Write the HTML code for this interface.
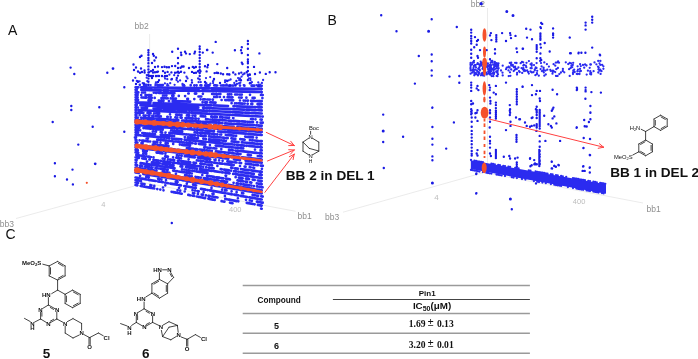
<!DOCTYPE html>
<html><head><meta charset="utf-8">
<style>
html,body{margin:0;padding:0;background:#fff;}
body{width:698px;height:359px;overflow:hidden;position:relative;font-family:"Liberation Sans",sans-serif;}
svg{position:absolute;left:0;top:0;will-change:transform;}
.ax{font-family:"Liberation Sans",sans-serif;fill:#8e8e8e;font-size:8.5px;}
.tk{font-family:"Liberation Sans",sans-serif;fill:#bdbdbd;font-size:7.5px;}
.pl{font-family:"Liberation Sans",sans-serif;fill:#111;font-size:14px;}
.big{font-family:"Liberation Sans",sans-serif;fill:#111;font-size:13.6px;font-weight:bold;}
.ch{font-family:"Liberation Sans",sans-serif;fill:#222;font-size:5.5px;}
.cb{font-family:"Liberation Sans",sans-serif;fill:#222;font-size:6px;font-weight:bold;}
.tb{font-family:"Liberation Sans",sans-serif;fill:#111;font-weight:bold;}
.sf{font-family:"Liberation Serif",serif;fill:#111;font-weight:bold;}
</style></head><body>
<svg width="698" height="359" viewBox="0 0 698 359">
<!-- axes lines -->
<g stroke="#e6e6e6" stroke-width="0.8" fill="none">
<line x1="16" y1="218.5" x2="134.5" y2="186"/>
<line x1="134.5" y1="181" x2="295.6" y2="211.3"/>
<line x1="149.6" y1="34" x2="149.6" y2="186"/>
<line x1="343" y1="212.2" x2="483.6" y2="172.6"/>
<line x1="484" y1="172.5" x2="643" y2="203"/>
<line x1="487.5" y1="8" x2="487.5" y2="172"/>
</g>
<!-- axis labels -->
<text class="ax" x="134.6" y="28.9">bb2</text>
<text class="ax" x="-0.3" y="227">bb3</text>
<text class="ax" x="297.6" y="219.4">bb1</text>
<text class="ax" x="470.7" y="6.9">bb2</text>
<text class="ax" x="325" y="220.3">bb3</text>
<text class="ax" x="646.5" y="212.2">bb1</text>
<text class="tk" x="101.2" y="207">4</text>
<text class="tk" x="229" y="212">400</text>
<text class="tk" x="434.2" y="199.5" style="font-size:8px">4</text>
<text class="tk" x="572.8" y="204.3">400</text>
<!-- panel labels -->
<text class="pl" x="8" y="34.5">A</text>
<text class="pl" x="327.6" y="25.1">B</text>
<text class="pl" x="5.6" y="239">C</text>
<path d="M139.8 84.8h0M144 84.9h0M145.6 84.9L146.1 84.9M157.3 85h0M159.3 85h0M160.3 85h0M161.9 85L162.8 85M182.9 85.2h0M183.9 85.2h0M190.7 85.2h0M194.3 85.3h0M196.6 85.3h0M200.4 85.3h0M201.4 85.3h0M205.2 85.4h0M207.1 85.4h0M208.5 85.4h0M209.5 85.4h0M214.3 85.4L215.7 85.4M217.2 85.5h0M220.9 85.5L226.1 85.5M227.7 85.5h0M229.7 85.6h0M230.9 85.6h0M232.4 85.6h0M233.6 85.6h0M240 85.6h0M244.4 85.7h0M251.6 85.7L254.3 85.7M257.8 85.8h0M259.4 85.8L261.7 85.8M135.6 87.3L138.4 87.3M141.2 87.4L152 87.5M154.1 87.5L199.4 88.1M201.6 88.1L209.1 88.2M211.3 88.3L261.7 88.9M135.6 89.8L136.9 89.8M261.3 91.9L261.7 92M141.4 89.9L161.2 90.3M163.3 90.3L168.4 90.4M170.6 90.4L200 90.9M202.2 90.9L216.8 91.2M218.9 91.2L261.7 92M135.6 92.3L138.3 92.4M261.3 95L261.7 95M142 92.5L145 92.5M153.8 92.7L153.8 92.7M155.9 92.8L156.6 92.8M158.8 92.8L172.5 93.1M174.4 93.2h0M188.3 93.5L188.7 93.5M194.9 93.6L196.2 93.6M202.9 93.8L202.9 93.8M212.1 94L213.9 94M216 94L216.9 94.1M218.9 94.1h0M220.4 94.1h0M227.9 94.3h0M229.4 94.3L229.7 94.3M231.3 94.4h0M235.1 94.5L237.7 94.5M239.9 94.6L240.1 94.6M241.8 94.6h0M250 94.8h0M261 95h0M262 95h0M262.7 95h0M135.6 94.8L137.6 94.9M141.2 95h0M145.5 95.1L146.7 95.1M148.3 95.2h0M149.3 95.2h0M151.3 95.2h0M163 95.5h0M164.2 95.6h0M166.4 95.6h0M172.2 95.8L173.5 95.8M178.8 95.9h0M185.1 96.1h0M198.5 96.5L201.3 96.5M214.2 96.9L217.2 96.9M219.9 97h0M224 97.1h0M227.6 97.2L228.8 97.2M230.3 97.3h0M231.9 97.3L232.5 97.3M239.1 97.5h0M241 97.6L241.7 97.6M246.4 97.7h0M252.6 97.9L254.6 97.9M262.4 98.1h0M135.6 97.3L137.6 97.4M260 101.1L261.7 101.2M141.5 97.5L146.2 97.7M148.7 97.7h0M150.3 97.8L151.8 97.8M154.7 97.9h0M161.5 98.1L162.6 98.2M164.1 98.2h0M165.7 98.2L166.1 98.3M167.7 98.3h0M170.7 98.4h0M172 98.4h0M173.3 98.5h0M174.6 98.5h0M175.9 98.6h0M187.3 98.9L188 98.9M194.3 99.1h0M200.6 99.3h0M203.2 99.4L204.9 99.4M207.1 99.5L208.3 99.5M209.9 99.6h0M212.6 99.7L212.9 99.7M221.6 100h0M225.3 100.1h0M226.6 100.1h0M228.4 100.2h0M229.8 100.2h0M231.4 100.2L233.2 100.3M240 100.5h0M243.6 100.6h0M245.3 100.7h0M247.4 100.7L247.9 100.7M251 100.8L251.8 100.9M253.3 100.9h0M254.6 101h0M256.5 101L259.1 101.1M135.6 99.8L138 99.9M148.5 100.3L151.3 100.4M158.7 100.6L159.3 100.7M160.9 100.7h0M161.9 100.8h0M163.5 100.8L163.5 100.8M168.9 101L169.1 101M172.7 101.1L190.2 101.7M202.6 102.2h0M205.1 102.3h0M206.1 102.3h0M207.1 102.3h0M210.3 102.4L215.5 102.6M231.6 103.2h0M235 103.3h0M236.6 103.4h0M238.7 103.4L242.8 103.6M244.7 103.6h0M247.6 103.7L247.7 103.8M251.3 103.9h0M252.3 103.9h0M257.6 104.1L261.7 104.2M259.1 107.2L261.7 107.3M135.6 102.3L150.4 102.9M153.6 103.1L211.4 105.3M213.6 105.4L228 106M233.5 106.2L234.6 106.2M236.7 106.3L250.5 106.9M252.3 106.9h0M254.1 107L255.4 107.1M257.6 107.2L261.7 107.3M135.6 104.8L136.8 104.9M259.4 110.3L261.7 110.4M140.5 105.1L198.3 107.6M203.1 107.8L204.1 107.9M206.3 108L244.3 109.6M246.5 109.7L256 110.1M258.1 110.2L261.7 110.4M135.6 107.4L138 107.5M141.7 107.7L147.1 107.9M153.6 108.2h0M155.2 108.3L161.4 108.6M163.5 108.7L186.9 109.8M189.1 109.9L207.4 110.8M209.5 110.9L209.7 110.9M211.9 111L230.7 112M232.9 112.1L242.9 112.6M245.1 112.7L249.1 112.9M251.3 113L261.7 113.5M135.6 109.9L136.2 109.9M138.6 110L174.8 111.9M177 112L189.3 112.7M191.5 112.8L232.8 115M235 115.1L260.6 116.5M262.7 116.6h0M260.5 119.5L261.7 119.6M135.6 112.4L140.2 112.6M141.8 112.7h0M143.4 112.8h0M147.5 113L148.9 113.1M150.6 113.2h0M154 113.4h0M155.6 113.5L157.6 113.6M159.2 113.7h0M170 114.3h0M176.1 114.7h0M177.5 114.8h0M179.1 114.9h0M181 115L181.5 115M186.9 115.3L189.3 115.4M192.5 115.6L192.7 115.6M194.9 115.8L195.4 115.8M200.7 116.1L203.6 116.3M205.2 116.4h0M211.3 116.7L212.4 116.8M214.6 116.9L216.9 117M220.1 117.2L222.6 117.4M224.8 117.5L227.3 117.6M229.1 117.7h0M233.1 118L233.4 118M251 119L252.9 119.1M255.5 119.3h0M135.6 114.9L136.5 114.9M260.6 122.6L261.7 122.7M139.6 115.1h0M143.6 115.4h0M145.2 115.5L145.9 115.5M148.4 115.7h0M149.4 115.7h0M152.3 115.9h0M153.3 116h0M155.8 116.1L159.2 116.3M160.8 116.4h0M167.3 116.8L167.7 116.9M170.6 117h0M175.4 117.3L175.7 117.4M177.3 117.4h0M180.5 117.6h0M181.7 117.7h0M185.5 118h0M186.6 118h0M188.3 118.1L192.8 118.4M194.9 118.5L196.1 118.6M198.6 118.8h0M206 119.2L207.9 119.3M210.1 119.5h0M212.2 119.6L220.2 120.1M222.3 120.2L226.5 120.5M228.7 120.6L231.6 120.8M233.7 120.9L239.7 121.3M241.8 121.4L245.4 121.7M247.5 121.8L247.9 121.8M249.5 121.9h0M251.5 122h0M253 122.1h0M257.1 122.4h0M262.7 122.7h0M135.6 117.4L137.9 117.5M258.9 125.6L261.7 125.7M141.2 117.7L141.6 117.8M143.8 117.9L145.5 118M147.7 118.2L154.2 118.6M156.4 118.8L158.9 118.9M161 119.1L171.2 119.7M173.4 119.9L173.8 119.9M175.9 120.1L178.3 120.2M182.1 120.5L184.4 120.6M186.1 120.7h0M187.2 120.8h0M188.8 120.9L200.5 121.7M202.7 121.8L206.3 122.1M208.5 122.2L216.4 122.7M218.6 122.9L219.3 122.9M221.2 123.1h0M222.4 123.1h0M225.1 123.3L234.7 124M236.8 124.1L254 125.2M256.2 125.4L258.6 125.5M260.2 125.6h0M261.7 125.8h0M135.6 119.9L144 120.5M146.1 120.6L148.5 120.8M150.7 120.9L160.3 121.6M162.5 121.8L165.7 122M167.8 122.2L183.2 123.3M185.3 123.4L193.8 124M196 124.2L210.2 125.2M213.9 125.4L219.6 125.8M221.8 126L233.7 126.8M237.3 127.1L255.4 128.4M257.6 128.5L261.7 128.8M135.6 122.4L136.6 122.5M259.9 131.8L261.7 131.9M139 122.6L141.3 122.8M144.1 123h0M148.5 123.4L155.6 123.9M157.8 124.1L182.7 125.9M187.9 126.3h0M189.7 126.5L191.4 126.6M194.5 126.8L212.4 128.2M214.5 128.3L221.3 128.8M222.9 129h0M224.5 129.1L261.7 131.9M260.6 134.9L261.7 135M135.6 124.9L157.3 126.6M159.4 126.8L173.2 127.9M174.8 128h0M176.4 128.1L185.5 128.9M187.6 129L194.2 129.6M196.4 129.7L197.6 129.8M199.8 130L203 130.3M205.2 130.5L210.2 130.9M211.8 131h0M213.4 131.1L214 131.2M218 131.5L225.3 132.1M227.5 132.2L246.1 133.7M248.3 133.9L261.7 135M135.6 127.4L139.4 127.7M143.5 128.1h0M145.5 128.2L151 128.7M153.2 128.9L153.4 128.9M155.6 129.1L161.1 129.5M162.7 129.7h0M171.1 130.4h0M172.5 130.5h0M174.3 130.7h0M176.2 130.8L177.9 131M179.5 131.1h0M180.8 131.2h0M182.2 131.3h0M194.6 132.4L197.7 132.6M199.9 132.8L202.2 133M204.4 133.2L209.8 133.7M212 133.8L214.9 134.1M217.1 134.3L217.4 134.3M220.1 134.5h0M221.2 134.6h0M225.8 135h0M227 135.1h0M228.6 135.2L233.8 135.7M236 135.9L236.1 135.9M245.2 136.6h0M246.8 136.8L253 137.3M256.6 137.6h0M135.6 129.9L138.1 130.1M140.2 130.3h0M152.8 131.4h0M153.9 131.5h0M156 131.7h0M160.7 132.1L162.1 132.3M165.5 132.6h0M169.4 132.9L170.6 133M172.7 133.2L183.8 134.2M186 134.4L186.3 134.4M187.9 134.5h0M188.9 134.6h0M190.5 134.8L193.7 135.1M195.3 135.2h0M197.9 135.4L198.3 135.5M200.5 135.7L205.7 136.1M208.9 136.4L211.3 136.6M213.4 136.8L219.9 137.4M221.5 137.5h0M223 137.7L224.2 137.8M226.4 138L227.7 138.1M231.4 138.4L235.3 138.8M240.3 139.2h0M241.9 139.3L244.6 139.6M249.9 140.1L249.9 140.1M252 140.3L252.7 140.3M254.3 140.5h0M255.9 140.6L257.8 140.8M259.9 141L261.7 141.1M135.6 132.4L136.5 132.5M260.3 144.1L261.7 144.2M138.1 132.6h0M142.3 133L145.3 133.3M146.9 133.5h0M147.9 133.5h0M149.4 133.7L150.4 133.8M152 133.9h0M153 134h0M155 134.2h0M160.8 134.8h0M162.6 134.9L171.9 135.8M174.1 136L174.1 136M184.8 137h0M187.8 137.3L192.9 137.8M194.8 137.9h0M196.5 138.1h0M197.9 138.2h0M203.3 138.7L203.8 138.8M205.9 139h0M209 139.3L219.7 140.3M221.3 140.4h0M222.9 140.6L224.1 140.7M225.9 140.8h0M231.7 141.4L236.6 141.8M238.5 142h0M241.8 142.3h0M242.8 142.4h0M243.8 142.5h0M244.9 142.6h0M246.6 142.8L260.7 144.1M135.6 134.9L137.3 135.1M260.5 147.1L261.7 147.3M139 135.2h0M140.6 135.4L141.2 135.5M143.4 135.7L164.5 137.7M166.7 137.9L167.3 138M169.2 138.2h0M172 138.5L181.5 139.4M184.6 139.7L186.9 139.9M189 140.1L206.3 141.8M208.4 142L219.6 143.1M221.2 143.3h0M222.8 143.4L223.1 143.5M224.9 143.7h0M226.2 143.8h0M227.7 143.9L230.6 144.2M232.3 144.4h0M234.1 144.5L234.6 144.6M236.8 144.8L244.6 145.6M246.7 145.8h0M248.8 146L257.9 146.9M260.1 147.1L261.7 147.3M260.6 150.2L261.7 150.3M135 137.4h0M136 137.5h0M146.7 138.5L147.8 138.7M157.3 139.6L158.1 139.7M160 139.9h0M161.3 140h0M162.4 140.2h0M163.5 140.3h0M164.8 140.4h0M166.1 140.5h0M168.2 140.8h0M169.3 140.9h0M170.9 141L172.4 141.2M174.5 141.4L176 141.5M177.8 141.7h0M179 141.9h0M180 142h0M181.6 142.1L182.1 142.2M183.8 142.3h0M184.8 142.5h0M186.4 142.6L190.9 143.1M192.5 143.2h0M195.1 143.5L195.8 143.6M198.9 143.9L205.3 144.6M209.9 145h0M215.7 145.6L220.8 146.1M222.4 146.3h0M223.4 146.4h0M225 146.6L234.2 147.5M235.7 147.7h0M237.3 147.8L238.6 148M240.2 148.1h0M241.4 148.2h0M243.2 148.4h0M255 149.6h0M135.6 139.9L136.5 140M260 153.2L261.7 153.4M139.6 140.3h0M142.1 140.6h0M143.1 140.7h0M144.1 140.8h0M145.1 140.9h0M146.7 141.1L148.2 141.3M150.2 141.5h0M153.5 141.8L157.3 142.2M160.5 142.6h0M165.6 143.1L167.7 143.4M173.2 143.9h0M179.9 144.6h0M182.1 144.9h0M183.6 145.1L190 145.7M204.2 147.3L205.8 147.4M207.4 147.6h0M208.9 147.8L210.7 147.9M213.3 148.2h0M214.8 148.4h0M216.3 148.5h0M221.3 149.1h0M229 149.9h0M231 150.1h0M232 150.2h0M233 150.3h0M235.5 150.6h0M237 150.8h0M238 150.9h0M240 151.1h0M241.5 151.2L256.9 152.9M259.1 153.1L261.7 153.4M135.6 142.4L137.4 142.6M261.2 156.4L261.7 156.5M141.5 143.1L142.6 143.2M152.9 144.4h0M153.9 144.5h0M155.1 144.6h0M157.3 144.8h0M158.8 145L166.2 145.8M168.4 146.1L168.5 146.1M186.9 148.1L193.7 148.9M195.8 149.1L197.3 149.3M199.5 149.5L204.5 150.1M206.7 150.3L207.1 150.4M208.9 150.6h0M210.7 150.8L211.8 150.9M215.9 151.4L220.8 151.9M222.4 152.1h0M224 152.3L225.9 152.5M228 152.7L230 152.9M232.1 153.2L233.4 153.3M234.9 153.5h0M236.1 153.6h0M237.2 153.7h0M238.5 153.9h0M240.4 154.1L240.5 154.1M247.8 154.9L249.3 155.1M250.9 155.3h0M257.8 156h0M259.4 156.2L261.7 156.5M135.6 144.9L138.1 145.2M260.8 159.4L261.7 159.5M141.2 145.6L163.7 148.2M167.8 148.7L175.1 149.5M177.3 149.8L195.6 151.9M197.7 152.1L202.4 152.7M204.5 152.9L208.5 153.4M210.7 153.6L211.4 153.7M213.6 154L221 154.8M222.6 155h0M224.2 155.2L228.7 155.7M230.8 156L238.8 156.9M242 157.3L261.7 159.5M135.6 147.4L137 147.6M141 148.1L161.6 150.6M163.8 150.8L213.5 156.8M215.7 157.1L216.5 157.2M218.7 157.4L228.3 158.6M234 159.3L239.9 160M245.6 160.7L261.7 162.6M135.6 149.9L137.8 150.2M260.7 165.6L261.7 165.7M143.1 150.9L145.2 151.1M146.8 151.3h0M156.6 152.6h0M157.7 152.7h0M159.3 152.9L162.6 153.3M165.4 153.7h0M176.9 155.1h0M178.5 155.3L179.1 155.4M181.3 155.6L181.6 155.7M184.8 156.1L185.9 156.2M187.5 156.4h0M189.1 156.6L194.7 157.3M197.9 157.7L210.2 159.3M214.5 159.8h0M215.5 159.9h0M219.1 160.4h0M222.6 160.8h0M227.4 161.4L232.7 162.1M234.9 162.3L236.5 162.5M239.5 162.9h0M241.1 163.1h0M245.8 163.7h0M247.6 163.9L251.7 164.4M253.5 164.7h0M255.4 164.9L257.9 165.2M261.3 165.6h0M262.8 165.8h0M135.6 152.4L138.3 152.8M143.3 153.4h0M145.3 153.7L146.2 153.8M165.2 156.3L167.9 156.6M173.1 157.3h0M176.3 157.7h0M177.9 157.9L179.4 158.1M181 158.3h0M188.6 159.3h0M196.9 160.4h0M198.5 160.6h0M200.5 160.8h0M201.5 161h0M203 161.2h0M205.1 161.4L207 161.7M208.9 161.9h0M210.1 162.1h0M211.7 162.3L211.8 162.3M213.9 162.6L217 163M219.2 163.3L222.2 163.7M224.4 163.9L231.9 164.9M233.7 165.1h0M240 166h0M244.6 166.6h0M245.6 166.7h0M249.7 167.2h0M250.7 167.3h0M253.3 167.7L254.1 167.8M261.9 168.8h0M260.6 171.7L261.7 171.8M136.3 155h0M137.7 155.2h0M139.1 155.4h0M141 155.7L143.8 156M145.9 156.3h0M147.7 156.6h0M148.9 156.7h0M149.9 156.9h0M150.9 157h0M153.5 157.3h0M162.7 158.6L163.1 158.6M164.7 158.8h0M167.9 159.3h0M169.9 159.5L171.6 159.8M173.2 160h0M174.2 160.1h0M177.9 160.6L178.9 160.7M181.1 161L190.3 162.3M193.5 162.7L196 163M200.3 163.6L202.1 163.8M204.2 164.1L204.8 164.2M206.9 164.5L212 165.2M217.4 165.9h0M231.1 167.7h0M232.5 167.9h0M235.1 168.3L237.9 168.6M241 169.1h0M242.6 169.3L248.9 170.1M251.1 170.4L256 171.1M257.8 171.3h0M259.6 171.6L261.7 171.8M135.6 157.4L139 157.9M260.3 174.7L261.7 174.9M142.3 158.4L145.9 158.9M149.4 159.4L149.8 159.4M153.4 159.9h0M154.5 160.1h0M156.1 160.3L158.5 160.6M160.7 160.9L161.1 161M163.2 161.3L170.5 162.3M172.7 162.6L175 162.9M177.2 163.2L195.2 165.7M197.4 166L201.3 166.6M203.2 166.8h0M206.2 167.2h0M208.8 167.6L209.5 167.7M211.7 168L213.7 168.3M220.7 169.2L221.9 169.4M224.1 169.7L229.1 170.4M231.1 170.7h0M234.1 171.1L236.3 171.4M238.4 171.7h0M240.5 172L253.8 173.8M259.2 174.6L261.7 174.9M135.6 160L136.6 160.1M261.1 177.9L261.7 178M147 161.6L147.2 161.6M151.9 162.3L159.7 163.4M162.3 163.8h0M163.5 163.9h0M165 164.2h0M166.9 164.4L168.1 164.6M170 164.9h0M172 165.2L173.5 165.4M180.5 166.4L182.3 166.6M186 167.2L196.8 168.7M199.9 169.2L211.9 170.9M214.1 171.2L219.8 172M222 172.3L222.9 172.4M225.1 172.7L229.6 173.4M233.2 173.9L233.2 173.9M235.4 174.2L248.6 176.1M250.7 176.4L261.7 178M135.6 162.5L136.2 162.5M260 180.8L261.7 181.1M140.6 163.2L151.9 164.9M154 165.2L158 165.8M160.2 166.1L161.3 166.3M162.9 166.5h0M164.5 166.7L174.5 168.2M182 169.3L182.1 169.3M184.2 169.6L184.3 169.6M186.4 170h0M188.5 170.3L190 170.5M192.1 170.8h0M194.1 171.1h0M196.2 171.4L204.8 172.7M206.3 172.9h0M207.5 173.1h0M225.6 175.7L226.1 175.8M235.6 177.2L235.7 177.2M238.8 177.7L242.7 178.3M245.9 178.7L249 179.2M252.7 179.7L254.7 180M257.9 180.5L260.5 180.9M135.6 165L137.1 165.2M259.5 183.8L261.7 184.1M140.1 165.7L140.6 165.7M142.3 166h0M145.2 166.4L149.4 167.1M151 167.3h0M152.5 167.5h0M155.5 168L156.6 168.2M158.7 168.5L158.8 168.5M160.9 168.8L165 169.4M166.6 169.7h0M167.7 169.8h0M173.2 170.7L175.3 171M176.9 171.2h0M178.5 171.5L190.1 173.2M191.8 173.5h0M202.3 175.1h0M206.9 175.8L209.4 176.2M211 176.4h0M212.6 176.7L214.5 177M216.6 177.3L219.6 177.7M221.7 178h0M223.2 178.3h0M225.8 178.7L229.9 179.3M237.5 180.4L243.3 181.3M245.5 181.7L247.1 181.9M250.2 182.4L251.4 182.6M256.8 183.4h0M258.4 183.6L261.7 184.1M135.6 167.5L136.6 167.6M260.6 187L261.7 187.2M139 168h0M140.6 168.3L140.8 168.3M142.9 168.6L145.1 169M147.2 169.3L153.9 170.3M155.4 170.6h0M156.5 170.7h0M162.7 171.7h0M164.3 172L164.6 172M166.8 172.4L169.4 172.8M175.9 173.8h0M185.1 175.2L187.3 175.6M188.8 175.8h0M189.8 176h0M191.8 176.3h0M195.5 176.8h0M196.5 177h0M198 177.2L198.8 177.4M200.8 177.7h0M203.8 178.1L208.1 178.8M210 179.1h0M211.8 179.4h0M213.8 179.7L218.9 180.5M221.1 180.8L227.1 181.8M233.6 182.8h0M236.7 183.3L238.4 183.6M240.6 183.9L241 184M243.2 184.3L249.8 185.3M251.4 185.6h0M253.9 186h0M256.9 186.4h0M257.9 186.6h0M259.5 186.9L260.3 187M261.9 187.2h0M262.6 187.3h0M135.6 170L139.3 170.6M261.2 190.2L261.7 190.3M142.2 171L143 171.2M145.2 171.5L161 174.1M163.2 174.4L187.3 178.3M189.4 178.6L193.5 179.3M195.7 179.6L226.4 184.6M228.5 184.9L233.8 185.8M235.9 186.1L254.5 189.1M256.6 189.5L259.2 189.9M261.4 190.2L261.7 190.3M135.6 172.5L138.7 173M143.3 173.8L159.2 176.4M161.3 176.7L177.8 179.5M180 179.8L180 179.8M182.2 180.2L184.1 180.5M186.2 180.9L212.5 185.2M214.6 185.6L220.5 186.5M222.7 186.9L238.2 189.5M240.3 189.8L261.7 193.3M261.2 196.3L261.7 196.4M140.1 175.8h0M146.3 176.8h0M148.2 177.1L148.7 177.2M158.1 178.8h0M159.7 179.1h0M161.4 179.4h0M166 180.2h0M175.8 181.8L177.6 182.1M186.8 183.7h0M193.1 184.7h0M195.1 185.1h0M196.1 185.3h0M211.5 187.9h0M222.1 189.7h0M225 190.2h0M226.5 190.4h0M231.6 191.3h0M236.6 192.2h0M242 193.1h0M243.3 193.3h0M252.6 194.9h0M253.6 195h0M254.6 195.2h0M256.2 195.5L258.1 195.8M262.7 196.6h0M260.4 199.3L261.7 199.5M135.6 177.5L146.5 179.4M148.6 179.8L155.8 181M158 181.4L159.4 181.6M161.5 182L162.8 182.2M165 182.6L165.1 182.6M167.2 183L168.2 183.2M170.4 183.6L177.1 184.7M179.2 185.1L180.9 185.4M184.3 186L195.8 188M201 188.9L205.5 189.7M207.6 190.1h0M209.8 190.4L225.5 193.2M227.6 193.5L232.1 194.3M234.2 194.7L238.4 195.4M240.6 195.8L247.2 197M249.4 197.3L261.7 199.5M135.6 180L138.4 180.5M259.5 202.2L261.7 202.6M140 180.8h0M141 181h0M165.3 185.3h0M179.1 187.8h0M185.4 188.9h0M192.5 190.2h0M195 190.6h0M197.5 191.1h0M198.7 191.3h0M203.6 192.2h0M212.5 193.8h0M213.5 193.9h0M224.9 196h0M237.9 198.3h0M246 199.8h0M249.8 200.4h0M251.9 200.8h0M256.9 201.7h0M257.9 201.9h0M260.3 202.3h0M262.7 202.7h0M135.6 182.5L138.1 183M260.1 205.3L261.7 205.6M141.4 183.6h0M142.8 183.8h0M144.5 184.1h0M150.4 185.2h0M151.4 185.4h0M154.3 185.9h0M163 187.5h0M177.6 190.2h0M180.2 190.7h0M184.7 191.5h0M193 193L194.3 193.3M197.9 193.9h0M201.7 194.6h0M202.9 194.8h0M205.9 195.4h0M208.5 195.9L209.8 196.1M212 196.5L217.5 197.5M225.3 198.9L227 199.3M228.6 199.6h0M229.6 199.7h0M231.2 200L236.7 201.1M238.3 201.3h0M246.8 202.9L253.1 204M254.6 204.3h0M257.9 204.9h0M258.9 205.1h0M135.6 185L137.3 185.3M261.2 208.6L261.7 208.7M140.7 186h0M141.8 186.2h0M143.4 186.5L151.2 187.9M152.7 188.2h0M154.3 188.5L154.3 188.5M157.3 189.1h0M160.3 189.6h0M163.5 190.3h0M171.6 191.8h0M173.2 192.1L176.1 192.6M177.7 192.9h0M179.3 193.2L181.7 193.7M188.3 194.9h0M189.3 195.1h0M190.3 195.3h0M192.7 195.7h0M194.1 196h0M196.8 196.5h0M198.7 196.9L198.9 196.9M200.4 197.2h0M202 197.5L205.2 198.1M208.4 198.7L213.1 199.6M214.7 199.9h0M221.6 201.2h0M223.2 201.5L224.4 201.7M230 202.7L232.5 203.2" stroke="#2b2bf0" stroke-width="2.7" stroke-linecap="round" fill="none"/>
<polygon points="470.8,160.3 606,184.2 606,193.8 470.8,169.1" fill="#2b2bf0"/>
<path d="M471 160h0M471 169.9h0M472.7 170.2h0M474.4 160.6h0M474.4 170.5h0M476.1 160.9h0M476.1 170.8h0M477.8 161.3h0M477.8 171.2h0M479.5 161.6h0M479.5 171.5h0M481.2 161.9h0M482.9 162.2h0M482.9 172.1h0M486.3 172.7h0M488 173h0M489.7 173.3h0M491.4 163.7h0M491.4 173.6h0M493.1 164h0M494.8 164.3h0M496.5 174.5h0M498.2 164.9h0M498.2 174.8h0M499.9 165.2h0M499.9 175.1h0M501.6 175.4h0M503.3 165.8h0M505 166.1h0M505 176h0M508.4 166.7h0M510.1 167h0M511.8 177.2h0M513.5 177.5h0M515.2 167.9h0M516.9 168.2h0M516.9 178.1h0M518.6 168.5h0M522 179h0M525.4 179.6h0M528.8 170.3h0M530.5 170.6h0M533.9 181.1h0M535.6 171.5h0M537.3 171.8h0M537.3 181.7h0M539 172.1h0M539 182h0M540.7 172.4h0M542.4 172.7h0M542.4 182.6h0M544.1 173h0M545.8 173.3h0M545.8 183.2h0M547.5 173.6h0M550.9 174.2h0M550.9 184.1h0M552.6 174.5h0M554.3 184.7h0M556 175.1h0M556 185h0M557.7 175.4h0M557.7 185.3h0M559.4 185.6h0M561.1 176h0M561.1 185.9h0M562.8 176.3h0M566.2 176.9h0M567.9 187.1h0M573 178.1h0M573 188h0M574.7 178.4h0M576.4 178.7h0M576.4 188.6h0M578.1 179h0M578.1 188.9h0M579.8 179.3h0M579.8 189.2h0M581.5 179.6h0M581.5 189.5h0M583.2 179.9h0M583.2 189.8h0M584.9 180.2h0M586.6 190.4h0M588.3 180.8h0M588.3 190.7h0M590 181.1h0M590 191h0M593.4 181.7h0M593.4 191.6h0M595.1 182h0M595.1 191.9h0M596.8 182.3h0M596.8 192.2h0M598.5 192.5h0M600.2 182.9h0M601.9 183.2h0M601.9 193.1h0M603.6 183.5h0M603.6 193.4h0M605.3 183.8h0M474 60.9h0M480.7 61.7h0M491.2 61.1h0M492.3 61h0M494.8 61.8h0M522 61.8h0M528.9 61.1h0M540.1 60.9h0M558.1 61.5h0M598.2 60.9h0M600.4 60.9h0M470.6 62.9h0M472.8 62.4h0M473.9 62.6h0M477.7 63.2h0M481.1 62.9h0M482.9 62.8h0M484.4 63.4h0M486.6 63.4h0M487.9 63.4h0M490.7 62.8h0M492.6 62.4h0M494.9 63.4h0M496.6 63.1h0M498.5 63.5h0M509.8 62.9h0M511.2 62.7h0M515.1 62.8h0M516.5 63h0M520.7 63.2h0M523.2 62.3h0M526.5 62.8h0M531.6 63.4h0M536.6 63.1h0M541 63.1h0M544.3 62.4h0M555.8 62.6h0M557.1 62.4h0M559 62.7h0M565.8 62.3h0M569.7 63h0M571.1 63.4h0M573.2 62.8h0M594.5 62.4h0M599.5 63.3h0M470.5 64.3h0M472.1 64.4h0M474.8 65.1h0M475.6 65.1h0M477.4 63.9h0M479.3 64.5h0M481 63.9h0M482.2 64.4h0M483.8 64.3h0M486.2 64.5h0M489.8 65h0M491 65.1h0M493.2 64.7h0M495 65h0M496.6 64.9h0M498 64.5h0M511 64.1h0M512.8 64.9h0M523.9 64.8h0M530.6 64.2h0M531.7 64.8h0M534 65.1h0M546.9 64.2h0M553.6 64.2h0M568.2 64.1h0M572.8 64.9h0M580.1 64.2h0M583 65h0M585.1 64.5h0M590.3 64.5h0M590.9 64.5h0M596.4 64.3h0M600.3 64.9h0M602.2 64.8h0M470.6 66h0M474 66h0M475.4 65.6h0M479.8 65.8h0M481 65.7h0M483.2 66.6h0M486.6 66.6h0M488.1 65.6h0M489.4 66.4h0M490.9 65.6h0M494.6 65.9h0M496.6 66.7h0M498.2 65.9h0M502.7 65.7h0M508.7 66.7h0M511.2 65.6h0M512.8 65.8h0M515.1 66.6h0M523.3 65.6h0M525.8 65.7h0M531.7 65.8h0M541.6 66.4h0M548.9 66.6h0M555.3 65.7h0M571.4 65.8h0M577.6 66.3h0M580.8 66.1h0M586.5 65.5h0M598 66.7h0M603.4 66.3h0M470.5 67.9h0M473.6 67.5h0M476.1 67.3h0M479.3 67.3h0M483.1 67.4h0M484.7 67.5h0M487.4 67.4h0M489.7 68.2h0M491.1 67.4h0M494.1 67.2h0M496.8 68.2h0M498.6 68.2h0M506.7 67.6h0M508 67.3h0M509.6 67.5h0M513.9 67.3h0M515.4 68.1h0M518.4 67.5h0M521.6 68.2h0M523.4 68.1h0M526.3 67.2h0M530.6 68.2h0M531.7 68.2h0M535.7 67.5h0M536.5 68h0M543.6 67.7h0M557.9 68h0M570.7 68h0M572.3 67.1h0M584.2 67.7h0M589.7 67.8h0M598.7 67.5h0M470.5 69h0M473 69.4h0M474.1 69.9h0M475.6 69.7h0M478.2 68.8h0M479.7 69.7h0M482.5 68.8h0M485 69.4h0M488.2 69.2h0M489.8 69.8h0M491.3 69.4h0M492.7 68.9h0M494.3 69.4h0M495.9 68.7h0M498.2 68.9h0M506 69.2h0M511.2 69.5h0M514.8 69.8h0M516.8 69.1h0M523.1 69.6h0M524.6 69.8h0M534.8 69.4h0M540.6 69.1h0M543.6 69.3h0M547.3 69.7h0M550.3 69.8h0M556.3 69.2h0M562.9 69h0M569.1 69.2h0M574.2 69.6h0M578 69.6h0M580 68.8h0M598.4 69.3h0M600.3 69.6h0M603.4 68.8h0M470.7 70.4h0M472.5 70.3h0M473.7 71.2h0M477.1 70.9h0M479.8 70.5h0M484.8 70.5h0M488.3 71.4h0M489.8 71.4h0M491 71.2h0M493.4 70.6h0M496.3 71.4h0M497.7 70.9h0M501 70.5h0M508.5 70.4h0M513.7 71h0M519 71.1h0M524.1 71h0M525.5 70.8h0M527.2 70.4h0M530.5 71.5h0M534.8 70.3h0M537.2 70.8h0M541.9 71.1h0M543.3 70.7h0M545.4 70.6h0M550.8 70.9h0M552.9 70.6h0M553.6 71.1h0M562.8 71h0M573.3 70.4h0M577.4 71.2h0M579.7 71.4h0M580.9 71h0M587.9 70.7h0M590.3 71.2h0M593.6 71.2h0M599.5 70.6h0M601.5 71.2h0M472.2 72.6h0M474.5 72.5h0M476.1 73.1h0M478.1 71.9h0M479 72.8h0M482.5 73h0M484.1 73h0M486.3 72.7h0M489.9 72.7h0M493.2 72.6h0M494.3 72.6h0M496.8 72.1h0M497.5 73h0M502.5 72.7h0M510 72.3h0M517.1 73h0M519.7 72h0M522.2 72.9h0M528.1 72h0M531.8 72.4h0M533.4 72.2h0M536.9 73.1h0M543.8 72.4h0M552.8 72h0M555.2 72.1h0M560.9 72.5h0M564.3 72.3h0M573 72.5h0M574.7 72h0M590.3 71.9h0M591.2 73h0M598.3 72.5h0M470.6 73.7h0M474.5 73.7h0M476.2 74.2h0M477.6 74.6h0M478.9 73.9h0M481.4 73.7h0M482.4 73.9h0M484 73.9h0M486.7 74.4h0M488.4 73.6h0M490.1 74.5h0M491.1 73.7h0M492.4 73.7h0M494 74h0M498 74.3h0M517 74.6h0M528.8 73.6h0M537 74h0M545.8 74.4h0M552.5 73.7h0M559.3 74.1h0M573 74h0M576.8 73.9h0M577.6 74h0M579.5 74h0M586.7 74.6h0M590.2 74h0M591.1 74.4h0M600.6 73.9h0M474.3 75.3h0M478 75.4h0M480.9 75.3h0M483 75.4h0M484.2 75.7h0M491.7 76.1h0M493.3 76.2h0M496.7 75.9h0M497.4 76.2h0M502.7 75.4h0M508.7 76.1h0M510.4 75.8h0M535.4 75.2h0M538.8 75.7h0M544.3 75.7h0M556 75.9h0M557.6 75.9h0M569.7 75.9h0M155.9 82.3h0M239.1 80.1h0M164.6 76.8h0M150.7 85.1h0M206 78.1h0M164.9 83.4h0M260 84.7h0M160.5 85.1h0M187.5 78.4h0M184.5 85.9h0M263.1 80h0M205.8 83h0M213.4 80.7h0M157.9 76h0M174.2 75.2h0M239.9 83.3h0M198.1 78.5h0M248 75.9h0M238.8 83.3h0M242.9 74.6h0M172 79h0M261.9 83h0M167.2 85.5h0M228.9 74.3h0M170.2 83.2h0M223.2 85.4h0M210.2 77.1h0M258.7 84.9h0M146.8 75.1h0M176.5 79.9h0M156 76.2h0M226.4 80.6h0M226.6 84.5h0M142.7 83.2h0M174.6 84.8h0M147.3 81.2h0M229.6 85.6h0M225.1 80.3h0M148.4 74.9h0M240 83.1h0M191.8 80.2h0M186.5 76.7h0M240.3 82.7h0M165.1 78.6h0M216.3 85.6h0M249.8 83.4h0M225 82.2h0M135.3 77.8h0M230.6 79.5h0M258.3 82.4h0M177.9 81.7h0M168.3 85.4h0M167.4 84.1h0M139.6 81.3h0M146.7 77.7h0M250.3 78.4h0M237 83.9h0M243.7 85.1h0M136.8 81h0M251 83h0M213 81.4h0M238.1 78.1h0M249.8 74.9h0M200.8 82.1h0M169.4 74.7h0M198.6 82.2h0M228.8 80.3h0M241.6 76.6h0M180.1 80.4h0M157 82.5h0M155.5 84.2h0M251.9 82.2h0M235.2 84.8h0M252.1 85.6h0M256.5 85.2h0M213.1 83.1h0M155.4 85.2h0M206.4 83.3h0M248.8 78.3h0M240 78.3h0M137.9 82h0M148.4 85.1h0M250.4 80.2h0M234.3 83h0M167.3 79.2h0M210.4 83.6h0M229.1 85.9h0M239.7 79.8h0M182.5 83.9h0" stroke="#2b2bf0" stroke-width="2.3" stroke-linecap="round" fill="none"/>
<path d="M70.6 67.6h0M74.3 74h0M107.3 72.7h0M124.3 87.3h0M71.3 106h0M71.3 110h0M99.3 107.3h0M52.7 122h0M92.7 126.7h0M124.3 131.7h0M78.3 144.6h0M54.9 163.3h0M72.5 169.6h0M54.9 176.2h0M67 179.5h0M72.9 184.4h0M171.8 223h0M148.4 50.3h0M148.4 52.6h0M148.4 55h0M148.4 58h0M148.4 60.3h0M148.4 63.3h0M148.4 66.4h0M148.4 69.5h0M148.4 72.5h0M148.4 75.6h0M148.4 78.6h0M148.4 81.7h0M148.4 84.8h0M153 54h0M153.8 55.7h0M141.5 55.7h0M140 57h0M172.2 51.8h0M178 48.8h0M178 58h0M178 63.3h0M178 68h0M178 71.8h0M178 75.6h0M181 52.6h0M181.3 55h0M185 51.8h0M186 53.4h0M189.8 54.1h0M194.4 53.4h0M195 51.8h0M199.7 46.5h0M199.7 49h0M199.7 52h0M199.7 55h0M199.7 58h0M199.7 61h0M199.7 64h0M199.7 67h0M199.7 70h0M199.7 73h0M199.7 76h0M199.7 79.4h0M202.8 52.6h0M207 50h0M215.7 41.9h0M207.3 50h0M212.7 52.6h0M234.9 50.3h0M241.8 47.3h0M241 50.3h0M241.8 53h0M247.9 41h0M247.9 44h0M247.9 48.8h0M247.9 55h0M247.9 59.5h0M247.9 61.8h0M247.9 63.3h0M247.9 67.2h0M247.9 71h0M247.9 74.8h0M247.9 80h0M259.4 53.4h0M208 64.9h0M217.3 64.1h0M241.8 62.6h0M242.5 64h0M254 66.9h0M158 66.5h0M162 67.1h0M164.5 66.7h0M166.8 67.2h0M169 67.3h0M172 66.1h0M175.2 66h0M180.6 67.7h0M182 66.5h0M183.6 66.5h0M189 68h0M192.8 66.9h0M194 67.7h0M195.9 67h0M199.7 67.3h0M205 66.3h0M207.4 67.3h0M140 72.7h0M142 72h0M144.6 72.5h0M149 72.3h0M151 71.1h0M153 72.5h0M155 72.2h0M158 71.6h0M163 71.1h0M165 72.7h0M167.6 71.9h0M171.4 72.4h0M175 72.8h0M177 72.4h0M179 72.8h0M181 71.8h0M184.4 72.6h0M192 71.9h0M194 72.9h0M196 72.8h0M198 71.2h0M200.5 71.3h0M206.6 71.4h0M214.6 73.1h0M216.7 72.8h0M218 73h0M220.8 73.5h0M223.1 74.3h0M227.2 74.3h0M229.4 74.5h0M233.2 72.5h0M235.4 74.4h0M239 73.5h0M241.3 72.6h0M244.4 73.5h0M246.7 72.3h0M249.8 74.5h0M255 74h0M259.9 72.5h0M265.8 73.9h0M269.7 72.2h0M275.5 72.2h0M149 76h0M151 76h0M153 76h0M156 76h0M159 76h0M162 76h0M165 76h0M167 76h0M159 80.2h0M171.4 79.4h0M176.8 77.9h0M227.2 68h0M227.2 81h0M236.4 81h0M241 80.2h0M258.6 86.3h0M230 85.5h0M235.6 85.5h0M186 81h0M192 82.5h0M205 82h0M214 79h0M220 83h0M250 83h0M133.5 64.5h0M136 67.5h0M134 70h0M138 71.5h0M141 68.5h0M144.5 70.5h0M133 80.5h0M138 81.5h0M152 63h0M155 67h0M153 70h0M157 72h0M152 78h0M158 82h0M144 83.5h0M136 84h0M154.5 60.5h0M156 57.5h0M381.2 15.3h0M431.7 19.3h0M396.5 31.2h0M456.8 27h0M418.8 56h0M431.7 54.5h0M431.7 61.3h0M431.7 70.4h0M431.7 75.6h0M414.9 83.6h0M449.5 76.6h0M459.3 76h0M459.3 82.7h0M432.3 107.8h0M383.2 114.6h0M383.2 142h0M403.1 136.8h0M383.8 168h0M432.4 107.6h0M432.4 127h0M432.4 138.8h0M432.4 144.6h0M432.4 156.4h0M432.4 160.3h0M453.9 122.4h0M446.2 148.6h0M476.2 193.5h0M476.2 174h0M471.2 29.8h0M471.2 32.6h0M471.2 35.9h0M471.2 38.4h0M471.2 41h0M471.2 43.5h0M471.2 49.8h0M471.2 53.8h0M471.2 57.7h0M475 37.1h0M477 41h0M478 40h0M476.7 44.8h0M474.2 47.3h0M480 50.1h0M477.5 56h0M478 57.7h0M486.7 50.1h0M490 59.3h0M490.9 33.1h0M490 35.4h0M491.4 40.1h0M496.3 35.1h0M496.3 37.1h0M496.3 39.3h0M496.3 41.4h0M495 49.3h0M495 53.5h0M502.1 33.1h0M506 41h0M510.1 33.1h0M510.5 35.1h0M511 38.1h0M515.5 35.9h0M516.5 48.5h0M517.1 52.1h0M522.7 48.8h0M542.2 23.9h0M540.4 27.1h0M540.9 28.1h0M526.2 28.7h0M530.5 29.6h0M553.1 28.4h0M540.4 33.4h0M540.4 35.1h0M540.4 36.8h0M540.4 38.4h0M540.4 39.8h0M553.1 33.4h0M553.1 35.1h0M553.1 37.6h0M527 37.6h0M532 39.3h0M569.8 37.6h0M540.4 44.3h0M540.9 47.6h0M544.7 43h0M536.7 45.1h0M536.7 47h0M536.7 49h0M536.7 51.8h0M523 48.8h0M549.7 51.5h0M540.4 53.5h0M570.1 53.2h0M578.5 53.2h0M536.7 58.2h0M540.4 58.2h0M592.2 16.7h0M592.2 19.7h0M592.2 22.6h0M585.6 22.6h0M585.6 25.4h0M585.6 29.6h0M569.7 37.6h0M592.2 47.6h0M570.8 53.2h0M578.7 52.8h0M581.4 52.8h0M585.4 52.8h0M599.8 54.8h0M471.2 82.6h0M471.2 85.1h0M471.2 87.6h0M471.2 90.9h0M471.2 101h0M471.2 104.3h0M471.2 109.3h0M471.2 111.8h0M471.2 114.3h0M477.5 85.9h0M476.7 88.4h0M478.4 90.1h0M473 103.5h0M489.2 85.1h0M490 87.6h0M489.7 90.1h0M490 97.6h0M490.4 101h0M490.4 103.5h0M495.9 85.9h0M493.7 92.6h0M495.9 94.3h0M495.9 102.6h0M495.9 105.1h0M495.9 108.1h0M490 110.2h0M490 112.7h0M477.5 110.2h0M476.7 112.7h0M506 82.6h0M522.7 86.8h0M509.8 105.1h0M510.1 109.3h0M510.1 112.7h0M516.8 89.3h0M516.8 91.8h0M516.8 94.3h0M516.8 96.8h0M516.8 99.3h0M516.8 101.8h0M516.8 104.3h0M522.5 86.8h0M532 85.1h0M536.7 90.9h0M535.9 94.3h0M532 95.1h0M540 90.9h0M539.7 98.5h0M540 101h0M552.6 89.8h0M557.1 94.3h0M576.8 87.6h0M576.8 90.1h0M536.7 106.8h0M535.9 109.3h0M536.7 111.8h0M539.7 110.2h0M539.7 112.7h0M553.4 107.6h0M552.6 109.3h0M577 88.1h0M577 89.8h0M585.6 87.6h0M585.6 90.1h0M585.6 91.4h0M591.4 92.1h0M600.9 92.6h0M585.4 98.8h0M590.4 106h0M590.4 112.7h0M600.1 55.3h0M471.7 110.8h0M471.7 113.3h0M471.7 117.5h0M471.7 121.7h0M471.7 126.7h0M471.7 130.9h0M471.7 134.2h0M471.7 137.6h0M471.7 140.9h0M471.7 144.3h0M471.7 147.6h0M471.7 150.9h0M471.7 153.8h0M471.7 155.5h0M475.4 113.3h0M475.4 117.5h0M477.5 120.9h0M490 113.3h0M490 117.5h0M490 121.7h0M489.7 127.5h0M490 136.7h0M490 140.9h0M490 143.4h0M490 147.6h0M506 130.1h0M509.8 110.8h0M509.8 115h0M510.5 121.7h0M510.5 125.9h0M516 117.5h0M519.3 119.2h0M477.5 150.1h0M476.7 153.5h0M477.5 155.5h0M490 153.5h0M490.9 156h0M503.8 156.8h0M509.3 156h0M510.1 158.5h0M515.1 158.5h0M517.6 157.6h0M495.9 110.8h0M495.9 112.5h0M495.9 114.5h0M495.9 116.5h0M495.9 118.5h0M495.9 150h0M495.9 152h0M495.9 154h0M495.9 156h0M495.9 158h0M516.5 135h0M516.5 137.2h0M516.5 139.5h0M516.5 141.8h0M539.7 110h0M539.7 112h0M539.7 114h0M539.7 116h0M539.7 118h0M539.7 120h0M539.7 122h0M539.7 124h0M539.7 126h0M539.7 128.5h0M539.7 135.9h0M539.7 141.4h0M539.7 146.8h0M539.7 151h0M539.7 154.3h0M539.7 156.8h0M539.7 160.1h0M539.7 163.5h0M536.7 110h0M536.7 112.5h0M536.7 115h0M536.7 118h0M536.7 124.2h0M536.7 126h0M536.7 127.5h0M531.7 118h0M532.5 117.5h0M525 122.5h0M526.7 125.9h0M530 126.7h0M531.7 125.9h0M534.2 125.4h0M520 119.2h0M544.2 115.8h0M551.8 110.8h0M552.6 118.4h0M554.3 116.4h0M548.4 124.2h0M550.9 125.9h0M551.8 127.5h0M556.4 123.4h0M536.4 130.9h0M545.4 140.9h0M560.1 140.9h0M576.8 127.5h0M530 158.8h0M534.2 160.1h0M535 163.5h0M531.7 165.2h0M535.9 164.3h0M539.7 161h0M539.7 164.3h0M551.8 161.8h0M554.3 166h0M555.9 166.8h0M558.8 165.2h0M552.1 168.5h0M590.4 112.5h0M584.2 120h0M590.4 119.2h0M588.9 122h0M576.7 127.5h0M584.7 126.2h0M586.7 126.5h0M583.7 138.1h0M590.1 139.1h0M583.4 148.1h0M590.1 155.1h0M583.1 166.5h0M589.7 167.7h0M476.4 173.4h0M476.4 193.1h0M511.8 209.3h0M536 183.4h0M530.1 158.3h0M530.4 166.2h0M534.3 164.2h0M536.8 164.2h0M589.8 155h0M551.7 161.7h0M554.2 165.9h0M555.9 166.7h0M558.4 165h0M551.7 168.4h0M583.4 166.2h0M582.6 170.9h0M584.7 170.9h0M589.8 167.5h0M589.8 172.5h0M516.8 162.5h0M516.8 164.5h0M516.8 166.5h0M539.3 150h0M539.3 152h0M539.3 154h0M539.3 156h0M539.3 158h0M539.3 160h0M539.3 162h0M539.3 164h0M539.3 166h0M541.2 23h0M541.2 60h0M576.6 127.7h0M585.5 126.4h0M583.7 137.9h0M590 139h0M583.5 148h0M590 155.2h0" stroke="#1a1ae4" stroke-width="2.4" stroke-linecap="round" fill="none"/>
<path d="M113 68.6h0M95.2 163.8h0" stroke="#1a1ae4" stroke-width="2.8" stroke-linecap="round" fill="none"/>
<path d="M481.2 3.7h0" stroke="#1a1ae4" stroke-width="3.2" stroke-linecap="round" fill="none"/>
<path d="M506.8 11.4h0M513 15.5h0M428.6 31.2h0M383.2 131h0M432.4 182.9h0M510.4 198.9h0" stroke="#1a1ae4" stroke-width="3.0" stroke-linecap="round" fill="none"/>
<polygon points="137,119.5 262.5,128.8 262.5,131.2 137,124" fill="#f5512b"/><ellipse cx="137" cy="121.8" rx="2.8" ry="2.8" fill="#f5512b"/><ellipse cx="145.1" cy="122.3" rx="2.9" ry="2.9" fill="#f5512b"/><ellipse cx="154.2" cy="122.9" rx="2.8" ry="2.8" fill="#f5512b"/><ellipse cx="163.3" cy="123.5" rx="2.4" ry="2.4" fill="#f5512b"/><ellipse cx="170" cy="124" rx="3" ry="3" fill="#f5512b"/><ellipse cx="177.6" cy="124.5" rx="2.9" ry="2.9" fill="#f5512b"/><ellipse cx="182.6" cy="124.8" rx="2.7" ry="2.7" fill="#f5512b"/><ellipse cx="188.2" cy="125.1" rx="2.7" ry="2.7" fill="#f5512b"/><ellipse cx="195.5" cy="125.6" rx="2.4" ry="2.4" fill="#f5512b"/><ellipse cx="201" cy="126" rx="2.6" ry="2.6" fill="#f5512b"/><ellipse cx="210" cy="126.6" rx="2.9" ry="2.9" fill="#f5512b"/><ellipse cx="215.2" cy="126.9" rx="2.9" ry="2.9" fill="#f5512b"/><ellipse cx="220.3" cy="127.2" rx="2.8" ry="2.8" fill="#f5512b"/><ellipse cx="225.3" cy="127.6" rx="1.4" ry="1.4" fill="#f5512b"/><ellipse cx="234.1" cy="128.1" rx="1.5" ry="1.5" fill="#f5512b"/><ellipse cx="239.5" cy="128.5" rx="2.1" ry="2.1" fill="#f5512b"/><ellipse cx="248.3" cy="129.1" rx="1.6" ry="1.6" fill="#f5512b"/><ellipse cx="257.5" cy="129.7" rx="1.8" ry="1.8" fill="#f5512b"/>
<polygon points="137,143.7 262.5,159.4 262.5,161.8 137,148.3" fill="#f5512b"/><ellipse cx="137" cy="146" rx="2.5" ry="2.5" fill="#f5512b"/><ellipse cx="146.1" cy="147.1" rx="2.8" ry="2.8" fill="#f5512b"/><ellipse cx="155.4" cy="148.1" rx="2.9" ry="2.9" fill="#f5512b"/><ellipse cx="161.3" cy="148.8" rx="2.6" ry="2.6" fill="#f5512b"/><ellipse cx="166.5" cy="149.4" rx="2.5" ry="2.5" fill="#f5512b"/><ellipse cx="171.2" cy="150" rx="2.6" ry="2.6" fill="#f5512b"/><ellipse cx="178.6" cy="150.8" rx="2.4" ry="2.4" fill="#f5512b"/><ellipse cx="186.4" cy="151.7" rx="2.6" ry="2.6" fill="#f5512b"/><ellipse cx="192.4" cy="152.4" rx="2.9" ry="2.9" fill="#f5512b"/><ellipse cx="199.2" cy="153.2" rx="2.6" ry="2.6" fill="#f5512b"/><ellipse cx="206" cy="154" rx="2.8" ry="2.8" fill="#f5512b"/><ellipse cx="210.7" cy="154.6" rx="3" ry="3" fill="#f5512b"/><ellipse cx="215.2" cy="155.1" rx="2.8" ry="2.8" fill="#f5512b"/><ellipse cx="223.8" cy="156.1" rx="2.4" ry="2.4" fill="#f5512b"/><ellipse cx="232.1" cy="157.1" rx="1.7" ry="1.7" fill="#f5512b"/><ellipse cx="239.4" cy="157.9" rx="1.4" ry="1.4" fill="#f5512b"/><ellipse cx="244.1" cy="158.5" rx="1.5" ry="1.5" fill="#f5512b"/><ellipse cx="253.3" cy="159.5" rx="1.5" ry="1.5" fill="#f5512b"/>
<polygon points="137,167.9 262.5,190.8 262.5,193.2 137,172.4" fill="#f5512b"/><ellipse cx="137" cy="170.2" rx="3" ry="3" fill="#f5512b"/><ellipse cx="146.1" cy="171.8" rx="2.6" ry="2.6" fill="#f5512b"/><ellipse cx="152.3" cy="172.9" rx="2.7" ry="2.7" fill="#f5512b"/><ellipse cx="160.6" cy="174.3" rx="2.5" ry="2.5" fill="#f5512b"/><ellipse cx="168.7" cy="175.7" rx="2.9" ry="2.9" fill="#f5512b"/><ellipse cx="177.4" cy="177.2" rx="2.4" ry="2.4" fill="#f5512b"/><ellipse cx="186.6" cy="178.8" rx="2.5" ry="2.5" fill="#f5512b"/><ellipse cx="192.7" cy="179.9" rx="2.8" ry="2.8" fill="#f5512b"/><ellipse cx="201.7" cy="181.4" rx="2.6" ry="2.6" fill="#f5512b"/><ellipse cx="210.7" cy="183" rx="2.7" ry="2.7" fill="#f5512b"/><ellipse cx="216.7" cy="184" rx="2.6" ry="2.6" fill="#f5512b"/><ellipse cx="222" cy="185" rx="2.4" ry="2.4" fill="#f5512b"/><ellipse cx="227.1" cy="185.9" rx="1.9" ry="1.9" fill="#f5512b"/><ellipse cx="236.5" cy="187.5" rx="1.5" ry="1.5" fill="#f5512b"/><ellipse cx="241.1" cy="188.3" rx="2.1" ry="2.1" fill="#f5512b"/><ellipse cx="248.2" cy="189.5" rx="1.7" ry="1.7" fill="#f5512b"/><ellipse cx="253.8" cy="190.5" rx="1.8" ry="1.8" fill="#f5512b"/>
<g fill="#f5512b">
<ellipse cx="484.5" cy="35" rx="2" ry="6.8"/>
<ellipse cx="484.5" cy="52" rx="1.5" ry="5.5"/>
<ellipse cx="484.6" cy="63" rx="2.4" ry="5.5"/>
<ellipse cx="484.5" cy="70" rx="1.6" ry="6"/>
<ellipse cx="484.4" cy="88.5" rx="1.8" ry="7.2"/>
<ellipse cx="484.4" cy="99.5" rx="1.2" ry="3"/>
<ellipse cx="484.6" cy="112.8" rx="3.9" ry="6"/>
<ellipse cx="484.2" cy="167.8" rx="2.5" ry="5.4"/>
<rect x="483.6" y="119" width="1.8" height="2.5"/>
<rect x="483.6" y="123.4" width="1.8" height="3.6"/>
<rect x="483.6" y="130.5" width="1.8" height="3.5"/>
<rect x="483.6" y="136.5" width="1.8" height="3.5"/>
<rect x="483.6" y="144" width="1.8" height="3"/>
<rect x="483.6" y="150.7" width="1.8" height="3.5"/>
<rect x="483.6" y="156" width="1.8" height="2"/>
</g>
<circle cx="86.8" cy="182.8" r="1.1" fill="#f5512b"/>
<!-- arrows A -->
<g stroke="#ff4040" stroke-width="1" fill="none" stroke-linecap="round">
<line x1="266.3" y1="132.4" x2="294.2" y2="145.5"/>
<line x1="267.5" y1="161" x2="294.2" y2="150"/>
<line x1="264.9" y1="192.3" x2="294.2" y2="154.2"/>
<line x1="603.6" y1="147.2" x2="489" y2="119"/>
</g>
<path d="M290.7 141.2L294.2 145.5M288.7 145.6L294.2 145.5M288.7 149.7L294.2 150M290.5 154.1L294.2 150M289.3 156.7L294.2 154.2M293.1 159.6L294.2 154.2M599.4 143.7L603.6 147.2M598.2 148.3L603.6 147.2" stroke="#ff4040" stroke-width="1" fill="none" stroke-linecap="round"/>
<text class="big" x="285.8" y="180">BB 2 in DEL 1</text>
<text class="big" x="610.2" y="177.1">BB 1 in DEL 2</text>
<path d="M310.6 131.3L310.6 134.3M308.7 138.2L303 142.1M312.4 138.2L318.8 142.1M303 142.1L303 151.2M318.8 142.1L318.8 151.2M303 142.1L309.3 148.4M309.3 148.4L318.4 150.9M303 151.2L308.6 154.8M318.8 151.2L312.4 154.9" stroke="#222" stroke-width="0.85" fill="none" stroke-linecap="round"/>
<text x="314" y="130.2" text-anchor="middle" font-size="5.8" fill="#111" font-family="Liberation Sans, sans-serif">Boc</text>
<text x="310.6" y="139" text-anchor="middle" font-size="5.8" fill="#111" font-family="Liberation Sans, sans-serif">N</text>
<text x="310.6" y="157.8" text-anchor="middle" font-size="5.8" fill="#111" font-family="Liberation Sans, sans-serif">N</text>
<text x="310.6" y="163.4" text-anchor="middle" font-size="5" fill="#111" font-family="Liberation Sans, sans-serif">H</text>
<path d="M660.6 115.2L667.2 119M667.2 119L667.2 126.6M667.2 126.6L660.6 130.4M660.6 130.4L654 126.6M654 126.6L654 119M654 119L660.6 115.2M661.1 117L665.3 119.4M665.3 126.2L661.1 128.6M655.3 125.2L655.3 120.4M645.6 131.5L654 126.6M641.2 129.3L645.6 131.5M645.6 131.5L645.6 140M645.6 140L652.4 144M652.4 144L652.4 151.8M652.4 151.8L645.6 155.8M645.6 155.8L638.8 151.8M638.8 151.8L638.8 144M638.8 144L645.6 140M651.1 145.4L651.1 150.4M645 154L640.6 151.4M640.6 144.4L645 141.8M632.8 155L638.8 151.8" stroke="#222" stroke-width="0.85" fill="none" stroke-linecap="round"/>
<text x="635" y="130" text-anchor="middle" font-size="5.8" fill="#111" font-family="Liberation Sans, sans-serif">H<tspan font-size="4" dy="1">2</tspan><tspan dy="-1">N</tspan></text>
<text x="623.3" y="159" text-anchor="middle" font-size="5.8" fill="#111" font-family="Liberation Sans, sans-serif">MeO<tspan font-size="4" dy="1">2</tspan><tspan dy="-1">S</tspan></text>
<path d="M57.6 261.4L65.1 265.9M65.1 265.9L65.1 275.9M65.1 275.9L57.6 280.1M57.6 280.1L49.2 275.9M49.2 275.9L49.2 265.9M49.2 265.9L57.6 261.4M58.3 263.3L63.1 266.2M63.1 275.5L58.3 278.2M50.5 274.1L50.5 267.7M42.8 264.2L49.2 265.9M57.6 280.1L57.6 290.1M57.6 290.1L51.7 293.6M57.6 290.1L65.1 294.3M72.6 290.1L80.2 294.3M80.2 294.3L80.2 303.5M80.2 303.5L72.6 307.7M72.6 307.7L65.1 303.5M65.1 303.5L65.1 294.3M65.1 294.3L72.6 290.1M73.3 292L78.2 294.7M78.2 303.1L73.3 305.8M66.4 301.8L66.4 296M48.4 297.5L48.4 305M48.4 305L54.8 308.6M56.8 312L56.8 319M56.8 319L50.4 322.6M46.4 322.5L40.6 319M40.6 319L40.6 312M42.6 308.5L48.4 305M50.3 307.5L53.6 309.4M53.6 319.3L50.3 321.2M41.9 316.2L41.9 312.5M40.6 319L34.6 322.1M30.3 321.6L24.5 318.4M56.8 319L62.8 322.2M67.4 321.6L73 318.6M73 318.6L81.6 323.4M81.6 323.4L81.6 330.2M79.3 335L73 338M73 338L65.2 333.1M65.2 333.1L65.2 326.4M84 334.6L89.6 337.6M89 337.6L89 344.5M90.2 337.6L90.2 344.5M89.6 337.6L98.4 333M98.4 333L103.3 335.8" stroke="#222" stroke-width="0.85" fill="none" stroke-linecap="round"/>
<text x="31.7" y="265.2" text-anchor="middle" font-size="6" font-weight="bold" fill="#111" font-family="Liberation Sans, sans-serif">MeO<tspan font-size="4.2" dy="1">2</tspan><tspan dy="-1">S</tspan></text>
<text x="46.3" y="296.9" text-anchor="middle" font-size="6" font-weight="bold" fill="#111" font-family="Liberation Sans, sans-serif">HN</text>
<text x="57.1" y="311.8" text-anchor="middle" font-size="6" font-weight="bold" fill="#111" font-family="Liberation Sans, sans-serif">N</text>
<text x="48.4" y="325.8" text-anchor="middle" font-size="6" font-weight="bold" fill="#111" font-family="Liberation Sans, sans-serif">N</text>
<text x="40.3" y="311.8" text-anchor="middle" font-size="6" font-weight="bold" fill="#111" font-family="Liberation Sans, sans-serif">N</text>
<text x="32.3" y="325.5" text-anchor="middle" font-size="6" font-weight="bold" fill="#111" font-family="Liberation Sans, sans-serif">N</text>
<text x="32.3" y="330.4" text-anchor="middle" font-size="6" font-weight="bold" fill="#111" font-family="Liberation Sans, sans-serif">H</text>
<text x="65.2" y="325.5" text-anchor="middle" font-size="6" font-weight="bold" fill="#111" font-family="Liberation Sans, sans-serif">N</text>
<text x="81.6" y="334.6" text-anchor="middle" font-size="6" font-weight="bold" fill="#111" font-family="Liberation Sans, sans-serif">N</text>
<text x="89.6" y="348.9" text-anchor="middle" font-size="6" font-weight="bold" fill="#111" font-family="Liberation Sans, sans-serif">O</text>
<text x="103.6" y="339.6" text-anchor="start" font-size="6" font-weight="bold" fill="#111" font-family="Liberation Sans, sans-serif">Cl</text>
<path d="M159.4 279.4L167.6 283.8M167.6 283.8L167.6 293.2M167.6 293.2L159.4 298.2M159.4 298.2L151.9 293.2M151.9 293.2L151.9 283.8M151.9 283.8L159.4 279.4M166.3 285.5L166.3 291.5M158.7 296.2L153.9 293M153.9 284.1L158.7 281.3M162.6 269.8L166.9 269.8M170.7 272.5L173.6 277.5M170.1 273.7L171.8 276.7M173.6 277.5L167.6 283.8M159.4 272.6L159.4 279.4M151.9 293.2L145.8 297M144.1 302L144.1 308.8M144.1 308.8L150.6 312.4M152.6 315.8L152.6 322.4M152.6 322.4L146.4 325.9M142.4 325.9L136.3 322.4M136.3 322.4L136.3 315.8M138.3 312.3L144.1 308.8M146 311.3L149.4 313.2M149.5 322.7L146.2 324.5M137.6 319.7L137.6 316.2M136.3 322.4L131.6 325.4M127.2 326L120.6 323.6M152.6 322.4L158.8 325.4M163.2 325L169 321.7M169 321.7L177.4 325.4M177.4 325.4L178.2 332.3M176.4 336.4L170.8 339.8M170.8 339.8L162.6 336.6M162.6 336.6L161.4 330.4M162.6 336.6L169 327.2M169 327.2L177.4 325.4M181.2 337L187.2 339.3M186.6 339.3L186.6 346.2M187.8 339.3L187.8 346.2M187.2 339.3L195.4 334.6M195.4 334.6L200.4 337.4" stroke="#222" stroke-width="0.85" fill="none" stroke-linecap="round"/>
<text x="157.5" y="271.9" text-anchor="middle" font-size="6" font-weight="bold" fill="#111" font-family="Liberation Sans, sans-serif">HN</text>
<text x="169.4" y="271.7" text-anchor="middle" font-size="6" font-weight="bold" fill="#111" font-family="Liberation Sans, sans-serif">N</text>
<text x="141.2" y="301.3" text-anchor="middle" font-size="6" font-weight="bold" fill="#111" font-family="Liberation Sans, sans-serif">HN</text>
<text x="152.9" y="315.6" text-anchor="middle" font-size="6" font-weight="bold" fill="#111" font-family="Liberation Sans, sans-serif">N</text>
<text x="144.4" y="329.1" text-anchor="middle" font-size="6" font-weight="bold" fill="#111" font-family="Liberation Sans, sans-serif">N</text>
<text x="136" y="315.6" text-anchor="middle" font-size="6" font-weight="bold" fill="#111" font-family="Liberation Sans, sans-serif">N</text>
<text x="129.4" y="329.6" text-anchor="middle" font-size="6" font-weight="bold" fill="#111" font-family="Liberation Sans, sans-serif">N</text>
<text x="129.4" y="334.6" text-anchor="middle" font-size="6" font-weight="bold" fill="#111" font-family="Liberation Sans, sans-serif">H</text>
<text x="161" y="329.2" text-anchor="middle" font-size="6" font-weight="bold" fill="#111" font-family="Liberation Sans, sans-serif">N</text>
<text x="178.6" y="336.6" text-anchor="middle" font-size="6" font-weight="bold" fill="#111" font-family="Liberation Sans, sans-serif">N</text>
<text x="187.2" y="350.7" text-anchor="middle" font-size="6" font-weight="bold" fill="#111" font-family="Liberation Sans, sans-serif">O</text>
<text x="200.9" y="341.1" text-anchor="start" font-size="6" font-weight="bold" fill="#111" font-family="Liberation Sans, sans-serif">Cl</text>
<g stroke="#9a9a9a" stroke-width="1.5">
<line x1="242.7" y1="285.5" x2="529.9" y2="285.5"/>
<line x1="242.7" y1="313.5" x2="529.9" y2="313.5"/>
<line x1="242.7" y1="333.3" x2="529.9" y2="333.3"/>
<line x1="242.7" y1="353.3" x2="529.9" y2="353.3"/>
</g>
<line x1="332.9" y1="299.5" x2="529.9" y2="299.5" stroke="#444" stroke-width="1"/>
<text class="tb" x="279.2" y="302.9" text-anchor="middle" font-size="8.2">Compound</text>
<text class="tb" x="427.2" y="296.2" text-anchor="middle" font-size="8">Pin1</text>
<text class="tb" x="412.9" y="309.2" font-size="9.8">IC<tspan font-size="7" dy="2">50</tspan><tspan dy="-2">(μM)</tspan></text>
<text class="tb" x="276.6" y="328.8" text-anchor="middle" font-size="9">5</text>
<text class="tb" x="276.6" y="348.6" text-anchor="middle" font-size="9">6</text>
<text class="sf" x="408.8" y="327" font-size="9.6">1.69<tspan x="427.8" dy="-0.9" font-family="Liberation Sans, sans-serif" font-weight="normal" font-size="10.5">±</tspan><tspan x="436.9" dy="0.9">0.13</tspan></text>
<text class="sf" x="408.8" y="347.7" font-size="9.6">3.20<tspan x="427.8" dy="-0.9" font-family="Liberation Sans, sans-serif" font-weight="normal" font-size="10.5">±</tspan><tspan x="436.9" dy="0.9">0.01</tspan></text>
<text class="tb" x="46.4" y="357.9" text-anchor="middle" font-size="13.5">5</text>
<text class="tb" x="145.8" y="357.9" text-anchor="middle" font-size="13.5">6</text>
</svg>
</body></html>
